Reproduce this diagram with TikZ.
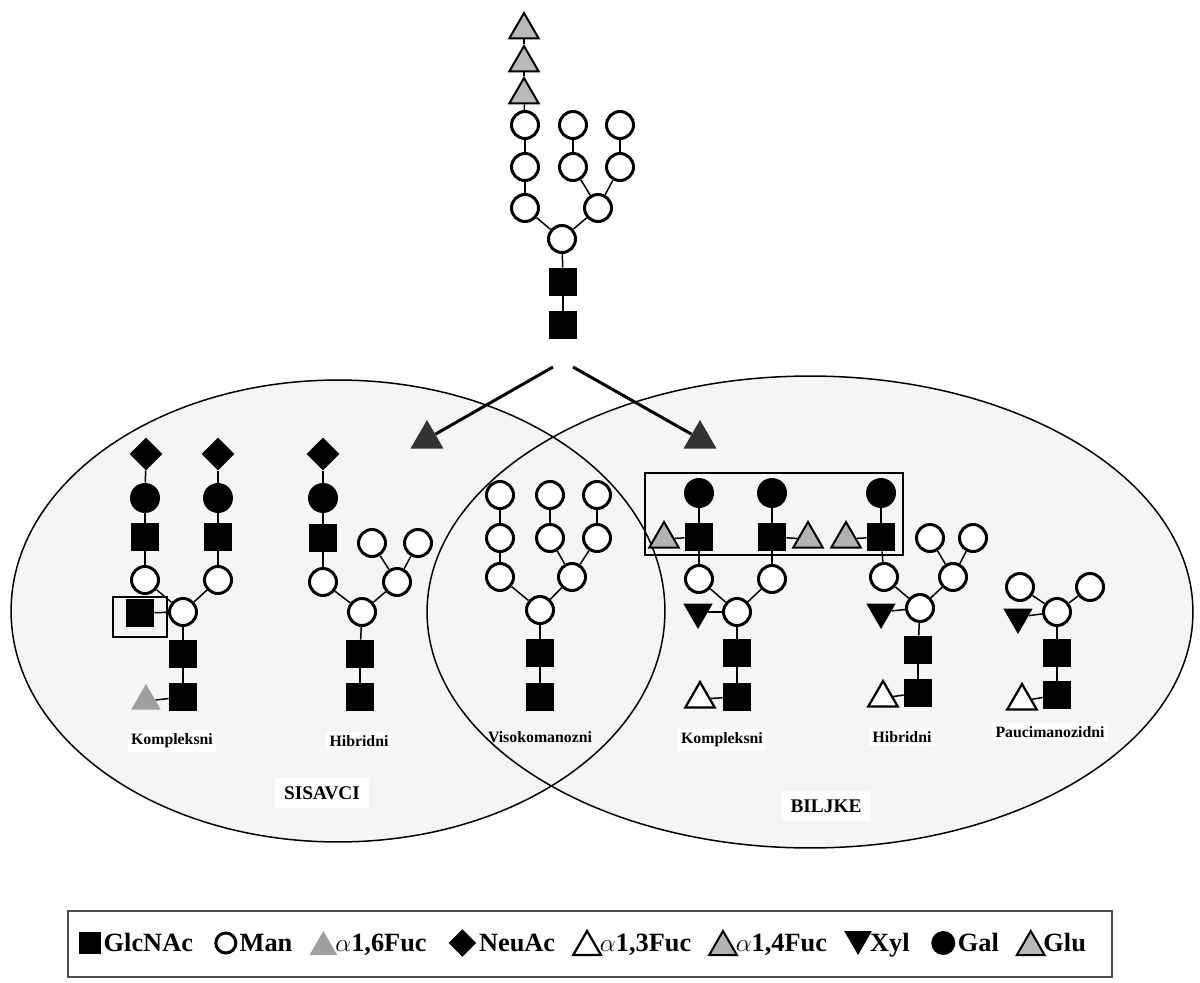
\documentclass[tikz,border=0pt]{standalone}
\usepackage{fontspec}
\setmainfont{Liberation Serif}
\usetikzlibrary{positioning,shapes.geometric}

\begin{document}
\begin{tikzpicture}[x=0.02cm, y=-0.02cm, font=\bfseries,
    glcnac/.style={rectangle, fill=black, minimum size=0.56cm, inner sep=0pt},
    man/.style={circle, draw=black, line width=0.06cm, fill=white, minimum size=0.54cm, inner sep=0pt},
    gal/.style={circle, fill=black, minimum size=0.6cm, inner sep=0pt},
    neuac/.style={diamond, fill=black, minimum size=0.66cm, inner sep=0pt},
    tri/.style={regular polygon, regular polygon sides=3, minimum size=0.68cm, inner sep=0pt},
    fucsix/.style={tri, fill=gray!75},
    fucthree/.style={tri, draw=black, line width=0.045cm, fill=white},
    fucfour/.style={tri, draw=black, line width=0.04cm, fill=gray!60},
    glu/.style={tri, draw=black, line width=0.04cm, fill=gray!55},
    xyl/.style={tri, shape border rotate=180, fill=black},
    fucdark/.style={tri, fill=black!80, minimum size=0.76cm},
    link/.style={line width=0.03cm},
    lbl/.style={font=\fontsize{9}{10}\selectfont\bfseries, fill=white, inner sep=2pt},
    group/.style={font=\fontsize{11}{12}\selectfont\bfseries, fill=white, inner sep=5pt},
    key/.style={font=\fontsize{15}{17}\selectfont\bfseries, inner sep=0pt,
                text height=0.44cm, text depth=0.12cm, anchor=west, xshift=0.04cm},
    keysym/.style={anchor=west, xshift=0.42cm}]

  \useasboundingbox (0,0) rectangle (1200,983);

  %% the two groups
  \fill[black!4] (338,611) ellipse [x radius=6.54cm, y radius=4.62cm];
  \fill[black!4] (810,612) ellipse [x radius=7.66cm, y radius=4.72cm];
  \draw[line width=0.03cm] (338,611) ellipse [x radius=6.54cm, y radius=4.62cm];
  \draw[line width=0.03cm] (810,612) ellipse [x radius=7.66cm, y radius=4.72cm];

  %% precursor
  \node[glcnac] (t1) at (563,325) {};
  \node[glcnac] (t2) at (563,282) {};
  \node[man] (t3) at (562,239) {};
  \node[man] (t4) at (525,208) {};
  \node[man] (t5) at (525,167) {};
  \node[man] (t6) at (525,125) {};
  \node[glu] (t7) at (524,95) {};
  \node[glu] (t8) at (524,63) {};
  \node[glu] (t9) at (524,30) {};
  \node[man] (t10) at (598,208) {};
  \node[man] (t11) at (573,167) {};
  \node[man] (t12) at (573,125) {};
  \node[man] (t13) at (620,167) {};
  \node[man] (t14) at (620,125) {};
  \foreach \a/\b in {t1/t2,t2/t3,t3/t4,t4/t5,t5/t6,t6/t7,t7/t8,t8/t9,
                     t3/t10,t10/t11,t11/t12,t10/t13,t13/t14}
    \draw[link] (\a) -- (\b);

  %% arrows
  \coordinate (splitL) at (553,367);
  \coordinate (splitR) at (573,367);
  \node[fucdark] (arrL) at (427,439) {};
  \node[fucdark] (arrR) at (700,439) {};
  \draw[line width=0.06cm] (splitL) -- (arrL);
  \draw[line width=0.06cm] (splitR) -- (arrR);

  %% sisavci, kompleksni
  \node[glcnac] (lk1) at (183,697) {};
  \node[glcnac] (lk2) at (183,654) {};
  \node[man] (lk3) at (183,612) {};
  \node[fucsix] (lkf) at (146,701) {};
  \node[glcnac] (lkb) at (140,613) {};
  \node[man] (lk4) at (145,580) {};
  \node[glcnac] (lk5) at (145,537) {};
  \node[gal] (lk6) at (145,498) {};
  \node[neuac] (lk7) at (146,454) {};
  \node[man] (lk8) at (218,580) {};
  \node[glcnac] (lk9) at (218,537) {};
  \node[gal] (lk10) at (218,498) {};
  \node[neuac] (lk11) at (218,454) {};
  \draw[line width=0.03cm] (113,597) rectangle (167,637);
  \foreach \a/\b in {lk1/lk2,lk2/lk3,lk1/lkf,lk3/lkb,lk3/lk4,lk4/lk5,lk5/lk6,
                     lk6/lk7,lk3/lk8,lk8/lk9,lk9/lk10,lk10/lk11}
    \draw[link] (\a) -- (\b);

  %% sisavci, hibridni
  \node[glcnac] (lh1) at (360,697) {};
  \node[glcnac] (lh2) at (360,654) {};
  \node[man] (lh3) at (362,612) {};
  \node[man] (lh4) at (323,582) {};
  \node[glcnac] (lh5) at (323,538) {};
  \node[gal] (lh6) at (323,498) {};
  \node[neuac] (lh7) at (323,454) {};
  \node[man] (lh8) at (397,582) {};
  \node[man] (lh9) at (372,543) {};
  \node[man] (lh10) at (418,543) {};
  \foreach \a/\b in {lh1/lh2,lh2/lh3,lh3/lh4,lh4/lh5,lh5/lh6,lh6/lh7,
                     lh3/lh8,lh8/lh9,lh8/lh10}
    \draw[link] (\a) -- (\b);

  %% visokomanozni
  \node[glcnac] (v1) at (540,697) {};
  \node[glcnac] (v2) at (540,653) {};
  \node[man] (v3) at (540,610) {};
  \node[man] (v4) at (500,577) {};
  \node[man] (v5) at (500,538) {};
  \node[man] (v6) at (500,495) {};
  \node[man] (v7) at (572,577) {};
  \node[man] (v8) at (550,538) {};
  \node[man] (v9) at (550,495) {};
  \node[man] (v10) at (597,538) {};
  \node[man] (v11) at (597,495) {};
  \foreach \a/\b in {v1/v2,v2/v3,v3/v4,v4/v5,v5/v6,v3/v7,v7/v8,v8/v9,v7/v10,v10/v11}
    \draw[link] (\a) -- (\b);

  %% biljke, kompleksni
  \node[glcnac] (rk1) at (737,697) {};
  \node[glcnac] (rk2) at (737,653) {};
  \node[man] (rk3) at (737,612) {};
  \node[xyl] (rkx) at (698,612) {};
  \node[fucthree] (rkf) at (700,699) {};
  \node[man] (rk4) at (699,579) {};
  \node[glcnac] (rk5) at (699,537) {};
  \node[gal] (rk6) at (699,493) {};
  \node[fucfour] (rkt1) at (664,539) {};
  \node[man] (rk7) at (772,579) {};
  \node[glcnac] (rk8) at (772,537) {};
  \node[gal] (rk9) at (772,493) {};
  \node[fucfour] (rkt2) at (808,539) {};
  \foreach \a/\b in {rk1/rk2,rk2/rk3,rk3/rkx,rk1/rkf,rk3/rk4,rk4/rk5,rk5/rk6,rk5/rkt1,
                     rk3/rk7,rk7/rk8,rk8/rk9,rk8/rkt2}
    \draw[link] (\a) -- (\b);

  %% biljke, hibridni
  \node[glcnac] (rh1) at (918,693) {};
  \node[glcnac] (rh2) at (918,650) {};
  \node[man] (rh3) at (920,608) {};
  \node[xyl] (rhx) at (881,612) {};
  \node[fucthree] (rhf) at (883,698) {};
  \node[man] (rh4) at (884,577) {};
  \node[glcnac] (rh5) at (881,537) {};
  \node[gal] (rh6) at (881,493) {};
  \node[fucfour] (rht) at (846,539) {};
  \node[man] (rh7) at (953,577) {};
  \node[man] (rh8) at (930,538) {};
  \node[man] (rh9) at (973,538) {};
  \foreach \a/\b in {rh1/rh2,rh2/rh3,rh3/rhx,rh1/rhf,rh3/rh4,rh4/rh5,rh5/rh6,rh5/rht,
                     rh3/rh7,rh7/rh8,rh7/rh9}
    \draw[link] (\a) -- (\b);
  \draw[line width=0.03cm] (645,473) rectangle (903,555);

  %% biljke, paucimanozidni
  \node[glcnac] (p1) at (1057,695) {};
  \node[glcnac] (p2) at (1057,653) {};
  \node[man] (p3) at (1057,612) {};
  \node[xyl] (px) at (1018,617) {};
  \node[fucthree] (pf) at (1022,701) {};
  \node[man] (p4) at (1020,587) {};
  \node[man] (p5) at (1090,587) {};
  \foreach \a/\b in {p1/p2,p2/p3,p3/px,p1/pf,p3/p4,p3/p5}
    \draw[link] (\a) -- (\b);

  %% labels
  \node[lbl] (lKomp) at (172,741) {Kompleksni};
  \node[lbl] (lHib) at (359,741) {Hibridni};
  \node[lbl, fill=none] (lVis) at (540,737) {Visokomanozni};
  \node[lbl] (rKomp) at (722,740) {Kompleksni};
  \node[lbl] (rHib) at (902,737) {Hibridni};
  \node[lbl] (rPauci) at (1050,732) {Paucimanozidni};
  \node[group] (gSis) at (322,793) {SISAVCI};
  \node[group] (gBil) at (826,806) {BILJKE};

  %% legend
  \draw[line width=0.03cm, black!70] (68,911) rectangle (1112,977);
  \node[glcnac, minimum size=0.44cm] (kGlcNAc) at (90,943) {};
  \node[key] (tGlcNAc) at (kGlcNAc.east) {GlcNAc};
  \node[man, minimum size=0.4cm, keysym] (kMan) at (tGlcNAc.east |- kGlcNAc) {};
  \node[key] (tMan) at (kMan.east |- kGlcNAc) {Man};
  \node[fucsix, minimum size=0.64cm, keysym, yshift=-0.08cm] (kFucsix) at (tMan.east |- kGlcNAc) {};
  \node[key] (tFucsix) at (kFucsix.east |- kGlcNAc) {$\alpha$1,6Fuc};
  \node[neuac, minimum size=0.56cm, keysym] (kNeuAc) at (tFucsix.east |- kGlcNAc) {};
  \node[key] (tNeuAc) at (kNeuAc.east |- kGlcNAc) {NeuAc};
  \node[fucthree, minimum size=0.64cm, keysym, yshift=-0.08cm] (kFucthree) at (tNeuAc.east |- kGlcNAc) {};
  \node[key] (tFucthree) at (kFucthree.east |- kGlcNAc) {$\alpha$1,3Fuc};
  \node[fucfour, minimum size=0.64cm, keysym, yshift=-0.08cm] (kFucfour) at (tFucthree.east |- kGlcNAc) {};
  \node[key] (tFucfour) at (kFucfour.east |- kGlcNAc) {$\alpha$1,4Fuc};
  \node[xyl, minimum size=0.64cm, keysym, yshift=0.08cm] (kXyl) at (tFucfour.east |- kGlcNAc) {};
  \node[key] (tXyl) at (kXyl.east |- kGlcNAc) {Xyl};
  \node[gal, minimum size=0.48cm, keysym] (kGal) at (tXyl.east |- kGlcNAc) {};
  \node[key] (tGal) at (kGal.east |- kGlcNAc) {Gal};
  \node[glu, minimum size=0.64cm, keysym, yshift=-0.08cm] (kGlu) at (tGal.east |- kGlcNAc) {};
  \node[key] (tGlu) at (kGlu.east |- kGlcNAc) {Glu};

\end{tikzpicture}
\end{document}
